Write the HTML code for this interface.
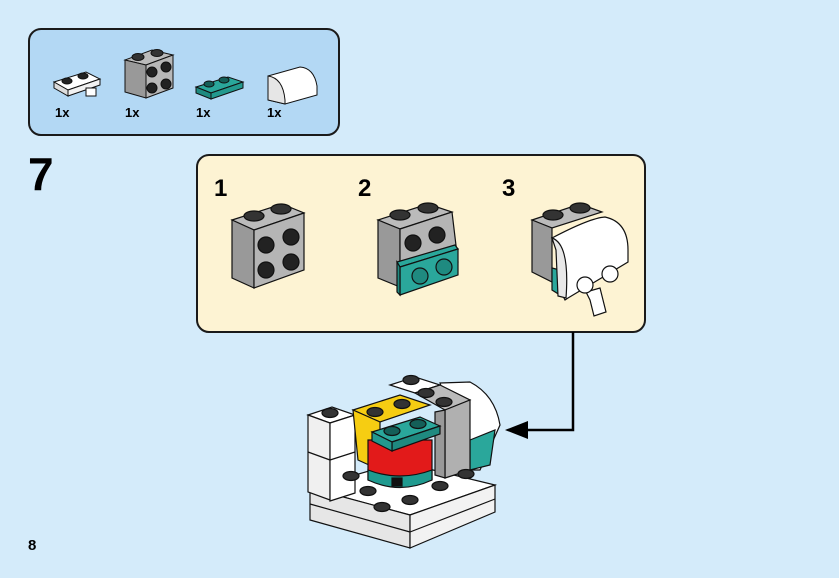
<!DOCTYPE html>
<html><head><meta charset="utf-8"><style>
html,body{margin:0;padding:0;background:#d4ebfa;}
svg{display:block}
text{font-family:"Liberation Sans",Arial,sans-serif;font-weight:bold;fill:#000}
</style></head><body>
<svg width="839" height="578" viewBox="0 0 839 578" xmlns="http://www.w3.org/2000/svg">
<rect width="839" height="578" fill="#d4ebfa"/>
<rect x="29" y="29" width="310" height="106" rx="12" fill="#b3d8f4" stroke="#1a1a1a" stroke-width="2"/>
<g stroke="#111" stroke-width="1">
 <polygon points="54,82 86,72 100,79 68,90" fill="#fff"/>
 <polygon points="54,82 68,90 68,96 54,88" fill="#ddd"/>
 <polygon points="68,90 100,79 100,85 68,96" fill="#f2f2f2"/>
 <ellipse cx="67" cy="81" rx="5" ry="3" fill="#222"/><ellipse cx="83" cy="76" rx="5" ry="3" fill="#222"/>
 <rect x="86" y="88" width="10" height="8" fill="#fff"/>
 <polygon points="125,60 152,50 173,55 146,65" fill="#bbb"/>
 <polygon points="125,60 146,65 146,98 125,92" fill="#999"/>
 <polygon points="146,65 173,55 173,88 146,98" fill="#b8b8b8"/>
 <ellipse cx="138" cy="57" rx="6" ry="3.5" fill="#333"/><ellipse cx="157" cy="53" rx="6" ry="3.5" fill="#333"/>
 <circle cx="152" cy="72" r="5" fill="#222"/><circle cx="166" cy="67" r="5" fill="#222"/>
 <circle cx="152" cy="88" r="5" fill="#222"/><circle cx="166" cy="84" r="5" fill="#222"/>
 <polygon points="196,87 228,77 243,82 211,93" fill="#2aa79b"/>
 <polygon points="196,87 211,93 211,99 196,93" fill="#1f8a80"/>
 <polygon points="211,93 243,82 243,88 211,99" fill="#23998e"/>
 <ellipse cx="209" cy="84" rx="5" ry="3" fill="#145f58"/><ellipse cx="224" cy="80" rx="5" ry="3" fill="#145f58"/>
 <path d="M268,76 L300,67 Q314,68 317,86 L317,95 L285,104 L268,100 Z" fill="#fff"/>
 <path d="M268,76 Q283,78 285,100 L285,104 L268,100 Z" fill="#e6e6e6"/>
</g>
<text x="55" y="117" font-size="13">1x</text>
<text x="125" y="117" font-size="13">1x</text>
<text x="196" y="117" font-size="13">1x</text>
<text x="267" y="117" font-size="13">1x</text>
<text x="28" y="190" font-size="46">7</text>
<rect x="197" y="155" width="448" height="177" rx="12" fill="#fdf3d3" stroke="#1a1a1a" stroke-width="2"/>
<text x="214" y="196" font-size="24">1</text>
<text x="358" y="196" font-size="24">2</text>
<text x="502" y="196" font-size="24">3</text>
<g stroke="#111" stroke-width="1.2">
 <polygon points="232,220 282,204 304,213 254,230" fill="#bbb"/>
 <polygon points="232,220 254,230 254,288 232,278" fill="#999"/>
 <polygon points="254,230 304,213 304,270 254,288" fill="#b5b5b5"/>
 <ellipse cx="254" cy="216" rx="10" ry="5" fill="#333"/><ellipse cx="281" cy="209" rx="10" ry="5" fill="#333"/>
 <circle cx="266" cy="245" r="8" fill="#222"/><circle cx="291" cy="237" r="8" fill="#222"/>
 <circle cx="266" cy="270" r="8" fill="#222"/><circle cx="291" cy="262" r="8" fill="#222"/>
 <polygon points="378,220 428,204 452,212 400,229" fill="#bbb"/>
 <polygon points="378,220 400,229 400,287 378,278" fill="#999"/>
 <polygon points="400,229 452,212 458,262 400,287" fill="#b5b5b5"/>
 <ellipse cx="400" cy="215" rx="10" ry="5" fill="#333"/><ellipse cx="428" cy="208" rx="10" ry="5" fill="#333"/>
 <circle cx="413" cy="243" r="8" fill="#222"/><circle cx="437" cy="235" r="8" fill="#222"/>
 <polygon points="397,262 455,245 458,249 400,267" fill="#2aa79b"/>
 <polygon points="400,267 458,249 458,275 400,295" fill="#2aa79b"/>
 <polygon points="397,262 400,267 400,295 397,292" fill="#1f8a80"/>
 <circle cx="420" cy="276" r="8" fill="#1f8a80"/><circle cx="444" cy="267" r="8" fill="#1f8a80"/>
 <polygon points="532,220 580,204 602,212 552,228" fill="#bbb"/>
 <polygon points="532,220 552,228 552,282 532,272" fill="#999"/>
 <ellipse cx="553" cy="215" rx="10" ry="5" fill="#333"/><ellipse cx="580" cy="208" rx="10" ry="5" fill="#333"/>
 <polygon points="552,268 560,270 560,295 552,290" fill="#2aa79b"/>
 <path d="M552,238 Q590,218 605,217 Q628,222 628,250 L628,262 L568,298 L565,300 L560,290 L560,268 Q565,244 552,238 Z" fill="#fff"/>
 <path d="M552,238 Q570,244 566,298 L558,296 L556,250 Z" fill="#e8e8e8"/>
 <path d="M586,292 L600,288 L606,312 L594,316 L590,300 Z" fill="#fff"/>
 <circle cx="585" cy="285" r="8" fill="#fff"/><circle cx="610" cy="274" r="8" fill="#fff"/>
</g>
<polyline points="573,332 573,430 520,430" fill="none" stroke="#000" stroke-width="2.5"/>
<polygon points="505,430 528,421 528,439" fill="#000"/>
<g stroke="#111" stroke-width="1.2">
 <polygon points="310,488 400,462 495,485 410,515" fill="#fff"/>
 <polygon points="310,488 410,515 410,548 310,520" fill="#e6e6e6"/>
 <polygon points="410,515 495,485 495,512 410,548" fill="#f2f2f2"/>
 <line x1="310" y1="504" x2="410" y2="532"/><line x1="410" y1="532" x2="495" y2="499"/>
 <polygon points="308,415 332,407 355,415 330,423" fill="#fff"/>
 <polygon points="308,415 330,423 330,500 308,492" fill="#f0f0f0"/>
 <polygon points="330,423 355,415 355,493 330,501" fill="#fff"/>
 <line x1="308" y1="452" x2="330" y2="460"/><line x1="330" y1="460" x2="355" y2="452"/>
 <ellipse cx="330" cy="413" rx="8" ry="4.5" fill="#333"/>
 <polygon points="390,385 415,377 440,385 415,393" fill="#fff"/>
 <ellipse cx="411" cy="380" rx="8" ry="4.5" fill="#333"/>
 <path d="M440,383 L470,382 Q495,395 500,425 L480,470 L470,470 Z" fill="#fff"/>
 <polygon points="470,440 495,430 490,465 470,470" fill="#2aa79b"/>
 <polygon points="353,410 400,395 430,405 380,422" fill="#f6cd12"/>
 <polygon points="353,410 380,422 380,470 358,460" fill="#f6cd12"/>
 <ellipse cx="375" cy="412" rx="8" ry="4.5" fill="#333"/><ellipse cx="402" cy="404" rx="8" ry="4.5" fill="#333"/>
 <polygon points="415,393 440,385 470,400 445,410" fill="#bbb"/>
 <polygon points="445,410 470,400 470,470 445,478" fill="#b0b0b0"/>
 <polygon points="435,412 445,410 445,478 435,475" fill="#999"/>
 <ellipse cx="426" cy="393" rx="8" ry="4.5" fill="#333"/><ellipse cx="444" cy="402" rx="8" ry="4.5" fill="#333"/>
 <path d="M368,440 L432,440 L432,480 Q400,492 368,480 Z" fill="#e21a1a"/>
 <path d="M368,470 Q400,482 432,470 L432,480 Q400,495 368,480 Z" fill="#1f9a8f"/>
 <rect x="392" y="478" width="10" height="8" fill="#111"/>
 <polygon points="372,432 420,417 440,426 392,442" fill="#2aa79b"/>
 <polygon points="392,442 440,426 440,434 392,451" fill="#1f8a80"/>
 <polygon points="372,432 392,442 392,451 372,441" fill="#23998e"/>
 <ellipse cx="392" cy="431" rx="8" ry="4.5" fill="#145f58"/><ellipse cx="418" cy="424" rx="8" ry="4.5" fill="#145f58"/>
 <ellipse cx="351" cy="476" rx="8" ry="4.5" fill="#333"/>
 <ellipse cx="368" cy="491" rx="8" ry="4.5" fill="#333"/>
 <ellipse cx="382" cy="507" rx="8" ry="4.5" fill="#333"/>
 <ellipse cx="410" cy="500" rx="8" ry="4.5" fill="#333"/>
 <ellipse cx="440" cy="486" rx="8" ry="4.5" fill="#333"/>
 <ellipse cx="466" cy="474" rx="8" ry="4.5" fill="#333"/>
</g>
<text x="28" y="550" font-size="15">8</text>
</svg>
</body></html>
